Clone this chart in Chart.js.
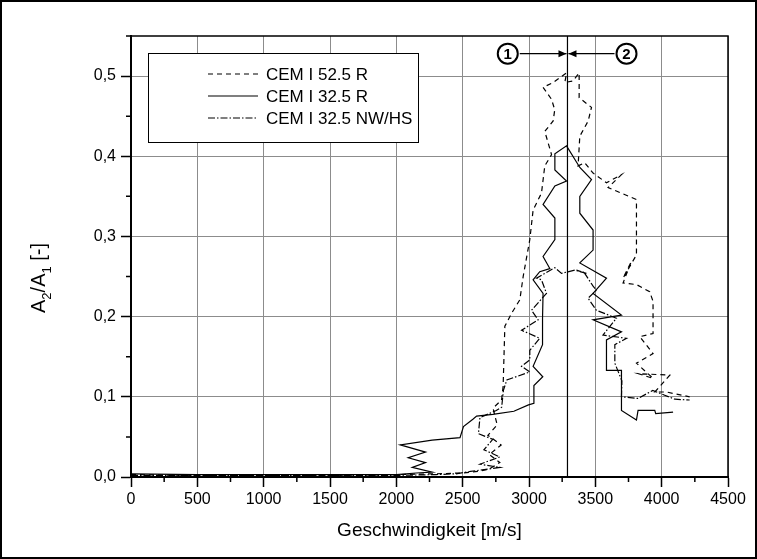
<!DOCTYPE html>
<html>
<head>
<meta charset="utf-8">
<script src="https://cdn.jsdelivr.net/npm/chart.js@4"></script>
<style>
  html, body { margin: 0; padding: 0; background: #fff; }
</style>
</head>
<body>
<canvas id="chart" width="757" height="559"></canvas>
<script>
// Values (speed in m/s, amplitude ratio A2/A1)
const speedR525 = [0, 500, 1000, 1500, 2000, 2300, 2500, 2620, 2700, 2780, 2700, 2790, 2690, 2760, 2729, 2793, 2805, 2818, 2868, 2931, 2956, 3006, 3031, 3094, 3119, 3170, 3119, 3182, 3194, 3170, 3106, 3182, 3283, 3270, 3332, 3378, 3378, 3471, 3446, 3383, 3370, 3420, 3483, 3584, 3697, 3596, 3810, 3810, 3709, 3772, 3709, 3810, 3910, 3935, 3935, 3835, 3935, 3810, 3935, 3822, 4061, 3948, 4036, 4211];
const ratioR525 = [0.003, 0.002, 0.002, 0.002, 0.003, 0.004, 0.005, 0.007, 0.010, 0.018, 0.028, 0.040, 0.052, 0.065, 0.086, 0.096, 0.113, 0.188, 0.204, 0.221, 0.250, 0.296, 0.333, 0.354, 0.388, 0.402, 0.431, 0.444, 0.458, 0.471, 0.486, 0.492, 0.504, 0.492, 0.494, 0.504, 0.473, 0.461, 0.444, 0.425, 0.388, 0.392, 0.379, 0.367, 0.377, 0.361, 0.346, 0.277, 0.248, 0.269, 0.242, 0.240, 0.231, 0.219, 0.179, 0.175, 0.154, 0.142, 0.123, 0.129, 0.127, 0.106, 0.106, 0.100];

const speedR325 = [0, 500, 1000, 1500, 2000, 2150, 2270, 2120, 2220, 2090, 2220, 2030, 2270, 2480, 2506, 2577, 2605, 2727, 2886, 2996, 3037, 3037, 3104, 3031, 3102, 3102, 3106, 3031, 3081, 3157, 3106, 3195, 3195, 3106, 3195, 3283, 3195, 3195, 3283, 3383, 3471, 3383, 3383, 3483, 3483, 3383, 3584, 3483, 3697, 3483, 3697, 3584, 3584, 3697, 3697, 3810, 3822, 3948, 3955, 4086];
const ratioR325 = [0.004, 0.003, 0.003, 0.003, 0.003, 0.005, 0.006, 0.012, 0.018, 0.024, 0.031, 0.040, 0.046, 0.049, 0.063, 0.072, 0.076, 0.078, 0.082, 0.090, 0.092, 0.114, 0.125, 0.138, 0.165, 0.198, 0.229, 0.246, 0.256, 0.260, 0.275, 0.296, 0.323, 0.340, 0.363, 0.369, 0.383, 0.403, 0.413, 0.386, 0.371, 0.350, 0.329, 0.308, 0.283, 0.267, 0.248, 0.229, 0.202, 0.196, 0.181, 0.171, 0.133, 0.133, 0.083, 0.071, 0.083, 0.083, 0.079, 0.081];

const speedNWHS = [0, 500, 1000, 1500, 2000, 2300, 2450, 2560, 2780, 2630, 2780, 2660, 2727, 2619, 2630, 2753, 2794, 2807, 2833, 3006, 2944, 3006, 3006, 3081, 2944, 3069, 3019, 3132, 3094, 3057, 3195, 3245, 3345, 3433, 3358, 3420, 3483, 3508, 3445, 3508, 3659, 3558, 3735, 3647, 3647, 3700, 3697, 3822, 3933, 4023, 4100, 4211];
const ratioNWHS = [0.002, 0.002, 0.002, 0.002, 0.002, 0.003, 0.004, 0.007, 0.012, 0.016, 0.025, 0.034, 0.047, 0.054, 0.074, 0.083, 0.087, 0.108, 0.121, 0.131, 0.138, 0.146, 0.158, 0.173, 0.183, 0.196, 0.208, 0.229, 0.246, 0.248, 0.261, 0.254, 0.258, 0.254, 0.258, 0.254, 0.238, 0.233, 0.223, 0.208, 0.198, 0.177, 0.173, 0.165, 0.142, 0.120, 0.100, 0.098, 0.108, 0.102, 0.097, 0.096];

const markerSpeed = 3290;   // vertical separation line
const arrowRatio = 0.528;   // height of the two arrows
const labelLeftSpeed = 2840;
const labelRightSpeed = 3735;

const seriesNames = ['CEM I 52.5 R', 'CEM I 32.5 R', 'CEM I 32.5 NW/HS'];
const seriesDash = [[5, 4], [], [7, 2, 1.5, 2]];

const xTicks = { min: 0, max: 4500, step: 500, minor: 250 };
const yTicks = { min: 0, max: 0.55, step: 0.1, minor: 0.05 };

const FONT = "'Liberation Sans', Arial, sans-serif";

function toPoints(xs, ys) {
    return xs.map((x, i) => ({ x: x, y: ys[i] }));
}

const datasets = [
    { label: seriesNames[0], data: toPoints(speedR525, ratioR525), borderDash: seriesDash[0] },
    { label: seriesNames[1], data: toPoints(speedR325, ratioR325), borderDash: seriesDash[1] },
    { label: seriesNames[2], data: toPoints(speedNWHS, ratioNWHS), borderDash: seriesDash[2] },
    { label: 'marker', data: toPoints([markerSpeed, markerSpeed], [yTicks.min, yTicks.max]), borderDash: [] }
].map(ds => Object.assign(ds, {
    showLine: true,
    borderColor: '#000',
    borderWidth: 1.2,
    pointRadius: 0,
    tension: 0,
    fill: false
}));

// y title with real subscripts: [text, subscript?]
const yTitleParts = [['A', false], ['2', true], ['/A', false], ['1', true], [' [-]', false]];

// frame, minor ticks, y title, legend box and the two arrows
const decorations = {
    id: 'decorations',
    beforeDraw(chart) {
        const ctx = chart.ctx;
        ctx.save();
        ctx.fillStyle = '#fff';
        ctx.fillRect(0, 0, chart.width, chart.height);
        ctx.restore();
    },
    afterDraw(chart) {
        const ctx = chart.ctx;
        const area = chart.chartArea;
        const xs = chart.scales.x;
        const ys = chart.scales.y;
        ctx.save();

        // outer border of the picture
        ctx.strokeStyle = '#000';
        ctx.lineWidth = 2;
        ctx.strokeRect(1, 1, chart.width - 2, chart.height - 2);

        // top and right frame of the plot
        ctx.lineWidth = 1.5;
        ctx.beginPath();
        ctx.moveTo(area.left, area.top);
        ctx.lineTo(area.right, area.top);
        ctx.lineTo(area.right, area.bottom);
        ctx.stroke();

        // minor ticks
        ctx.lineWidth = 1.5;
        ctx.beginPath();
        for (let v = xTicks.minor; v < xTicks.max; v += xTicks.step) {
            const px = xs.getPixelForValue(v);
            ctx.moveTo(px, area.bottom);
            ctx.lineTo(px, area.bottom + 5);
        }
        for (let v = yTicks.minor; v < yTicks.max; v += yTicks.step) {
            const py = ys.getPixelForValue(v);
            ctx.moveTo(area.left - 5, py);
            ctx.lineTo(area.left, py);
        }
        ctx.stroke();

        // y axis title, drawn piece by piece for the subscripts
        const bigFont = '20px ' + FONT;
        const smallFont = '13px ' + FONT;
        ctx.fillStyle = '#000';
        ctx.textBaseline = 'alphabetic';
        ctx.textAlign = 'left';
        let total = 0;
        yTitleParts.forEach(([t, sub]) => {
            ctx.font = sub ? smallFont : bigFont;
            total += ctx.measureText(t).width;
        });
        ctx.save();
        ctx.translate(45, 313);
        ctx.rotate(-Math.PI / 2);
        let pos = 0;
        yTitleParts.forEach(([t, sub]) => {
            ctx.font = sub ? smallFont : bigFont;
            ctx.fillText(t, pos, sub ? 6 : 0);
            pos += ctx.measureText(t).width;
        });
        ctx.restore();

        // legend
        const box = { left: 148, top: 53, right: 418, bottom: 142 };
        ctx.fillStyle = '#fff';
        ctx.fillRect(box.left, box.top, box.right - box.left, box.bottom - box.top);
        ctx.lineWidth = 1;
        ctx.strokeStyle = '#000';
        ctx.strokeRect(box.left + 0.5, box.top + 0.5, box.right - box.left, box.bottom - box.top);
        const rows = [74, 96, 118];
        ctx.font = '17px ' + FONT;
        ctx.textBaseline = 'middle';
        ctx.textAlign = 'left';
        ctx.fillStyle = '#000';
        seriesNames.forEach((name, i) => {
            ctx.setLineDash(seriesDash[i]);
            ctx.lineWidth = 1.2;
            ctx.beginPath();
            ctx.moveTo(208, rows[i]);
            ctx.lineTo(258, rows[i]);
            ctx.stroke();
            ctx.setLineDash([]);
            ctx.fillText(name, 266, rows[i] + 1);
        });

        // arrows pointing at the marker line
        const mx = xs.getPixelForValue(markerSpeed);
        const ay = ys.getPixelForValue(arrowRatio);
        const c1 = xs.getPixelForValue(labelLeftSpeed);
        const c2 = xs.getPixelForValue(labelRightSpeed);
        const r = 10;
        ctx.lineWidth = 1.2;
        ctx.beginPath();
        ctx.moveTo(c1 + r + 2, ay);
        ctx.lineTo(mx - 1, ay);
        ctx.moveTo(c2 - r - 2, ay);
        ctx.lineTo(mx + 1, ay);
        ctx.stroke();
        ctx.beginPath();
        ctx.moveTo(mx - 1, ay);
        ctx.lineTo(mx - 9, ay - 3.5);
        ctx.lineTo(mx - 9, ay + 3.5);
        ctx.closePath();
        ctx.moveTo(mx + 1, ay);
        ctx.lineTo(mx + 9, ay - 3.5);
        ctx.lineTo(mx + 9, ay + 3.5);
        ctx.closePath();
        ctx.fill();

        ctx.lineWidth = 2;
        ctx.font = 'bold 15px ' + FONT;
        ctx.textAlign = 'center';
        [[c1, '1'], [c2, '2']].forEach(([cx, t]) => {
            ctx.beginPath();
            ctx.arc(cx, ay, r, 0, Math.PI * 2);
            ctx.stroke();
            ctx.fillText(t, cx, ay + 1);
        });

        ctx.restore();
    }
};

const ctx = document.getElementById('chart').getContext('2d');
new Chart(ctx, {
    type: 'scatter',
    data: { datasets: datasets },
    options: {
        responsive: false,
        animation: false,
        layout: { padding: { top: 36, right: 29, left: 0, bottom: 0 } },
        plugins: {
            legend: { display: false },
            tooltip: { enabled: false }
        },
        scales: {
            x: {
                type: 'linear',
                min: xTicks.min,
                max: xTicks.max,
                ticks: {
                    stepSize: xTicks.step,
                    color: '#000',
                    padding: 3,
                    font: { family: FONT, size: 16 },
                    callback: v => String(v)
                },
                grid: { color: '#8c8c8c', lineWidth: 1, tickLength: 10, tickColor: '#000', tickWidth: 1.5 },
                border: { color: '#000', width: 2 },
                title: {
                    display: true,
                    text: 'Geschwindigkeit [m/s]',
                    color: '#000',
                    font: { family: FONT, size: 19 },
                    padding: { top: 0, bottom: 17 }
                },
                afterFit: s => { s.height = 82; }
            },
            y: {
                type: 'linear',
                min: yTicks.min,
                max: yTicks.max,
                ticks: {
                    stepSize: yTicks.step,
                    includeBounds: false,
                    color: '#000',
                    padding: 5,
                    font: { family: FONT, size: 16 },
                    callback: v => (Math.round(v * 10) / 10).toFixed(1).replace('.', ',')
                },
                grid: { color: '#8c8c8c', lineWidth: 1, tickLength: 10, tickColor: '#000', tickWidth: 1.5 },
                border: { color: '#000', width: 2 },
                afterFit: s => { s.width = 131; }
            }
        }
    },
    plugins: [decorations]
});
</script>
</body>
</html>
